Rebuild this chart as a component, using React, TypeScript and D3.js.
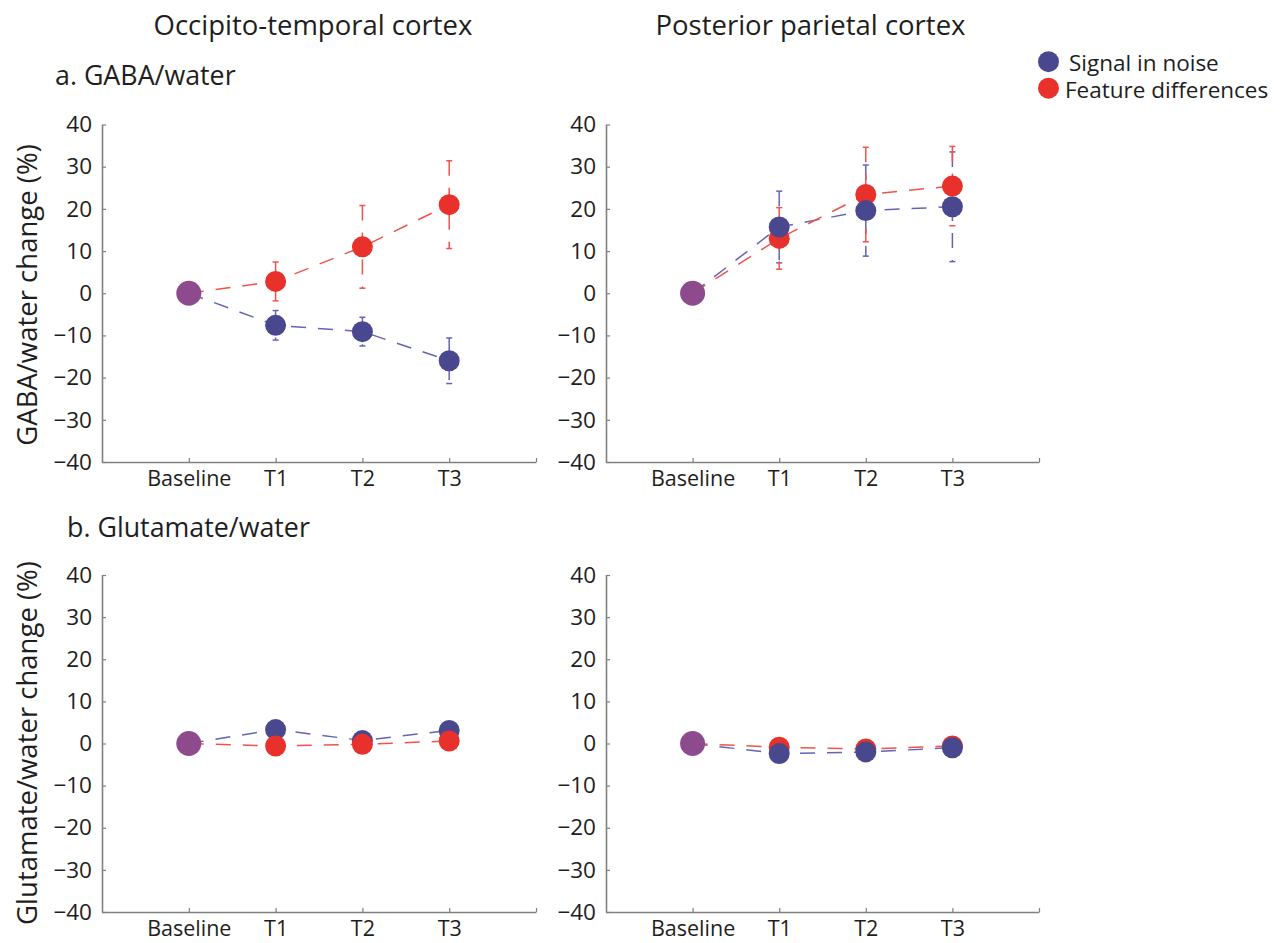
import React, { useEffect, useRef } from "react";
import * as d3 from "d3";

// ---------- data ----------
const categories = ["Baseline", "T1", "T2", "T3"];
const yTicks = [-40, -30, -20, -10, 0, 10, 20, 30, 40];

// GABA/water, occipito-temporal cortex
const gabaOtcSignal = [0, -7.6, -9.1, -16.0];
const gabaOtcSignalErr = [0, 3.5, 3.4, 5.4];
const gabaOtcFeature = [0, 2.8, 11.0, 21.0];
const gabaOtcFeatureErr = [0, 4.6, 9.8, 10.4];

// GABA/water, posterior parietal cortex
const gabaPpcSignal = [0, 15.7, 19.6, 20.5];
const gabaPpcSignalErr = [0, 8.5, 10.8, 13.0];
const gabaPpcFeature = [0, 13.0, 23.4, 25.4];
const gabaPpcFeatureErr = [0, 7.3, 11.2, 9.4];

// Glutamate/water, occipito-temporal cortex
const gluOtcSignal = [0, 3.3, 0.7, 3.1];
const gluOtcFeature = [0, -0.6, -0.2, 0.6];

// Glutamate/water, posterior parietal cortex
const gluPpcSignal = [0, -2.4, -2.0, -1.0];
const gluPpcFeature = [0, -0.9, -1.3, -0.6];

const seriesNames = ["Signal in noise", "Feature differences"];

// ---------- style ----------
const FONT = "'Open Sans', 'Noto Sans', sans-serif";
const BLUE = "#49488E";
const RED = "#E8312B";
const PURPLE = "#8D4B8E";
const BLUE_LINE = "#6464B4";
const RED_LINE = "#F0524C";
const AXIS = "#808080";
const TEXT = "#1e1e1e";

type Panel = {
  x0: number;
  x1: number;
  yTop: number;
  yBot: number;
  signal: number[];
  signalErr: number[] | null;
  feature: number[];
  featureErr: number[] | null;
  redOnTop: boolean;
};

export default function App() {
  const ref = useRef<SVGSVGElement | null>(null);

  useEffect(() => {
    document.body.style.margin = "0";
    const svg = d3.select(ref.current);
    svg.selectAll("*").remove();

    const panels: Panel[] = [
      { x0: 102, x1: 536, yTop: 124.5, yBot: 462, signal: gabaOtcSignal, signalErr: gabaOtcSignalErr, feature: gabaOtcFeature, featureErr: gabaOtcFeatureErr, redOnTop: true },
      { x0: 606, x1: 1039, yTop: 124.5, yBot: 462, signal: gabaPpcSignal, signalErr: gabaPpcSignalErr, feature: gabaPpcFeature, featureErr: gabaPpcFeatureErr, redOnTop: false },
      { x0: 102, x1: 536, yTop: 575, yBot: 912, signal: gluOtcSignal, signalErr: null, feature: gluOtcFeature, featureErr: null, redOnTop: true },
      { x0: 606, x1: 1039, yTop: 575, yBot: 912, signal: gluPpcSignal, signalErr: null, feature: gluPpcFeature, featureErr: null, redOnTop: false },
    ];

    const DASH = "15,12";

    panels.forEach((p) => {
      const x = d3.scaleLinear().domain([0, categories.length + 1]).range([p.x0, p.x1]);
      const y = d3.scaleLinear().domain([-40, 40]).range([p.yBot, p.yTop]);
      const g = svg.append("g");

      // y axis
      const yAxis = d3
        .axisLeft(y)
        .tickValues(yTicks)
        .tickSize(-4)
        .tickSizeOuter(0)
        .tickPadding(10)
        .tickFormat((d) => String(d).replace("-", "\u2212"));
      const ya = g.append("g").attr("transform", `translate(${p.x0},0)`).call(yAxis);
      ya.select(".domain").attr("stroke", AXIS).attr("stroke-width", 1.6);
      ya.selectAll(".tick line").attr("stroke", AXIS).attr("stroke-width", 1.2);
      ya.selectAll(".tick text").attr("fill", TEXT).style("font-family", FONT).style("font-size", "22.5px");

      // x axis
      const xAxis = d3
        .axisBottom(x)
        .tickValues([1, 2, 3, 4, 5])
        .tickSize(-4)
        .tickSizeOuter(0)
        .tickPadding(9)
        .tickFormat((d) => categories[(d as number) - 1] ?? "");
      const xa = g.append("g").attr("transform", `translate(0,${p.yBot})`).call(xAxis);
      xa.select(".domain").attr("stroke", AXIS).attr("stroke-width", 1.6);
      xa.selectAll(".tick line").attr("stroke", AXIS).attr("stroke-width", 1.2);
      xa.selectAll(".tick text").attr("fill", TEXT).style("font-family", FONT).style("font-size", "21.5px");

      const line = d3
        .line<number>()
        .x((_, i) => x(i + 1))
        .y((d) => y(d));

      const drawSeries = (vals: number[], errs: number[] | null, lineCol: string) => {
        const sg = g.append("g");
        sg.append("path")
          .attr("d", line(vals) as string)
          .attr("fill", "none")
          .attr("stroke", lineCol)
          .attr("stroke-width", 1.5)
          .attr("stroke-dasharray", DASH);
        if (errs) {
          vals.forEach((v, i) => {
            if (i === 0 || !errs[i]) return;
            const cx = x(i + 1);
            const t = y(v + errs[i]);
            const b = y(v - errs[i]);
            sg.append("line").attr("x1", cx).attr("x2", cx).attr("y1", t).attr("y2", b)
              .attr("stroke", lineCol).attr("stroke-width", 1.5).attr("stroke-dasharray", DASH);
            [t, b].forEach((yy) =>
              sg.append("line").attr("x1", cx - 3).attr("x2", cx + 3).attr("y1", yy).attr("y2", yy)
                .attr("stroke", lineCol).attr("stroke-width", 1.5)
            );
          });
        }
      };
      const drawDots = (vals: number[], col: string) => {
        g.append("g")
          .selectAll("circle")
          .data(vals.slice(1))
          .join("circle")
          .attr("cx", (_, i) => x(i + 2))
          .attr("cy", (d) => y(d))
          .attr("r", 10.5)
          .attr("fill", col);
      };

      drawSeries(p.signal, p.signalErr, BLUE_LINE);
      drawSeries(p.feature, p.featureErr, RED_LINE);
      if (p.redOnTop) {
        drawDots(p.signal, BLUE);
        drawDots(p.feature, RED);
      } else {
        drawDots(p.feature, RED);
        drawDots(p.signal, BLUE);
      }
      // baseline (shared) point
      g.append("circle").attr("cx", x(1)).attr("cy", y(p.signal[0])).attr("r", 12.5).attr("fill", PURPLE);
    });

    const txt = (s: string, xx: number, yy: number, size: number, anchor = "start") =>
      svg.append("text").attr("x", xx).attr("y", yy).attr("text-anchor", anchor)
        .attr("fill", TEXT).style("font-family", FONT).style("font-size", `${size}px`).text(s);

    txt("Occipito-temporal cortex", 313, 35, 27.5, "middle");
    txt("Posterior parietal cortex", 810.5, 35, 27.5, "middle");
    txt("a. GABA/water", 55, 85, 26.8);
    txt("b. Glutamate/water", 67, 537, 26.8);

    svg.append("text").attr("transform", "translate(37,295) rotate(-90)").attr("text-anchor", "middle")
      .attr("fill", TEXT).style("font-family", FONT).style("font-size", "27.5px").text("GABA/water change (%)");
    svg.append("text").attr("transform", "translate(37,743) rotate(-90)").attr("text-anchor", "middle")
      .attr("fill", TEXT).style("font-family", FONT).style("font-size", "27.5px").text("Glutamate/water change (%)");

    // legend
    const legCols = [BLUE, RED];
    seriesNames.forEach((name, i) => {
      const cy = 61.7 + i * 26.5;
      svg.append("circle").attr("cx", 1048.5).attr("cy", cy).attr("r", 10.5).attr("fill", legCols[i]);
      txt(name, i === 0 ? 1069 : 1065, cy + 9.5, 22.5);
    });
  }, []);

  return <svg ref={ref} width={1282} height={943} style={{ display: "block", background: "#fff" }} />;
}
